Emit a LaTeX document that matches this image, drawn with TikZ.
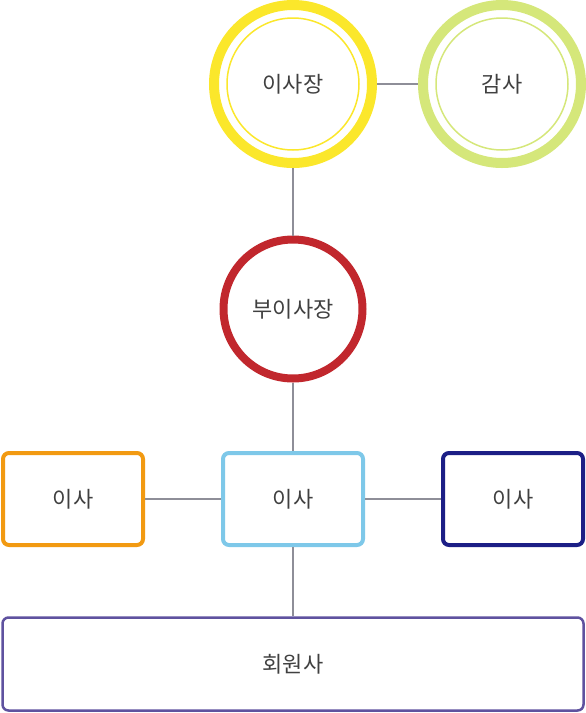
\documentclass[tikz,border=0pt]{standalone}
\usepackage{fontspec}
\newfontfamily\kr{Noto Sans CJK KR}
\usepackage{tikz}

\definecolor{chairyel}{HTML}{FBE72B}
\definecolor{auditgrn}{HTML}{D5E77A}
\definecolor{vicered}{HTML}{C1272D}
\definecolor{dirorange}{HTML}{F29A12}
\definecolor{dirblue}{HTML}{7EC8E9}
\definecolor{dirnavy}{HTML}{1C1F86}
\definecolor{memberpur}{HTML}{5F529F}
\definecolor{linkgray}{HTML}{8E8E98}
\definecolor{txtgray}{HTML}{404040}

\begin{document}
\begin{tikzpicture}[x=1pt, y=-1pt, every node/.style={draw, inner sep=0pt,
  font=\kr\fontsize{22}{26}\selectfont, text=txtgray},
  ring/.style={circle, line width=10pt, minimum size=158pt},
  dirbox/.style={rounded corners=6pt, line width=4pt, minimum width=140pt,
  minimum height=92pt},
  link/.style={draw=linkgray, line width=1.2pt}]
  \useasboundingbox (0,0) rectangle (586,713);
  % top row
  \node[ring, draw=chairyel] (chair) at (293, 84) {이사장};
  \node[ring, draw=auditgrn] (audit) at (502, 84) {감사};
  \draw[chairyel, line width=1.5pt] (chair.center) circle (66);
  \draw[auditgrn, line width=1.5pt] (audit.center) circle (66);
  % vice chair
  \node[circle, draw=vicered, line width=8pt, minimum size=139pt] (vice)
    at (293, 309) {부이사장};
  % directors
  \node[dirbox, draw=dirorange] (dir1) at (73, 499) {이사};
  \node[dirbox, draw=dirblue] (dir2) at (293, 499) {이사};
  \node[dirbox, draw=dirnavy] (dir3) at (513, 499) {이사};
  % members
  \node[rounded corners=6pt, draw=memberpur, line width=2.5pt,
    minimum width=581pt, minimum height=93pt] (member) at (293, 664) {회원사};
  \draw[link] (chair)--(audit);
  \draw[link] (chair)--(vice);
  \draw[link] (vice)--(dir2);
  \draw[link] (dir1)--(dir2); \draw[link] (dir2)--(dir3);
  \draw[link] (dir2)--(member);
\end{tikzpicture}
\end{document}
